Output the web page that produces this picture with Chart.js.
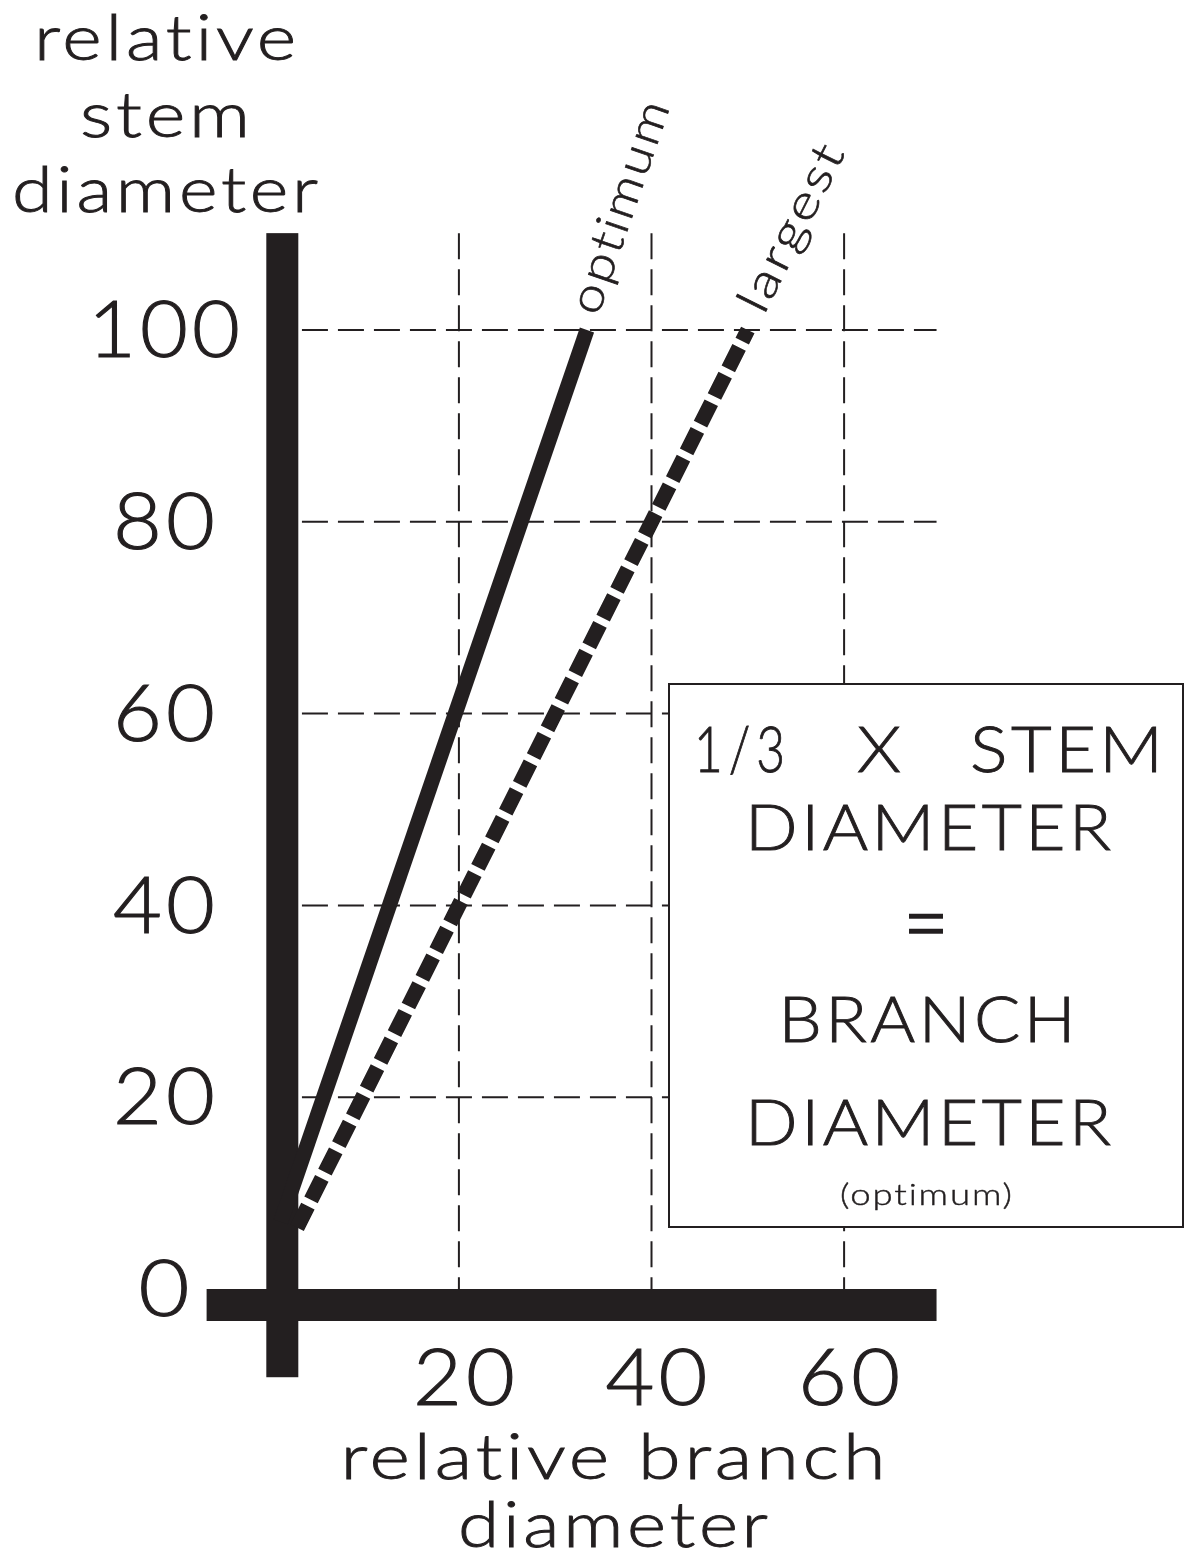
<!DOCTYPE html>
<html>
<head>
<meta charset="utf-8">
<script src="https://cdn.jsdelivr.net/npm/chart.js@4.4.1/dist/chart.umd.min.js"></script>
<style>
  html, body { margin: 0; padding: 0; background: #fff; }
  canvas { display: block; }
</style>
</head>
<body>
<canvas id="c" width="1186" height="1558"></canvas>
<script>
/* ── data ─────────────────────────────────────────────── */
const OPTIMUM_X = [1.5, 33.3];
const OPTIMUM_Y = [7, 100];
const LARGEST_X = [3.2, 50];
const LARGEST_Y = [6.4, 100];

const X_TICKS = [20, 40, 60];
const Y_TICKS = [0, 20, 40, 60, 80, 100];
const X_GRID = [20, 40, 60];
const Y_GRID = [20, 40, 60, 80, 100];

const SERIES_LABELS = ["optimum", "largest"];
const Y_TITLE = ["relative", "stem", "diameter"];
const X_TITLE = ["relative branch", "diameter"];

const INK = "#231f20";
const FONT = "Lato, 'Open Sans', sans-serif";
const W = 300;

const pts = (xs, ys) => xs.map((x, i) => ({ x, y: ys[i] }));

/* draw text widened to a given width: a little letter spacing, rest by horizontal stretch */
function fitText(ctx, text, left, baseY, width, size, lsf = 0.05) {
  const n = text.length;
  const ls = n > 1 ? size * lsf : 0;
  ctx.letterSpacing = ls + "px";
  const w = ctx.measureText(text).width - ls;
  const sx = width / w;
  ctx.save();
  ctx.textAlign = "left";
  ctx.translate(left, baseY);
  ctx.scale(sx, 1);
  ctx.fillText(text, 0, 0);
  ctx.lineWidth = size / 70;   // light face, slightly thickened
  ctx.strokeStyle = INK;
  ctx.strokeText(text, 0, 0);
  ctx.restore();
  ctx.letterSpacing = "0px";
}
function fitCentered(ctx, text, cx, baseY, width, size, lsf) {
  fitText(ctx, text, cx - width / 2, baseY, width, size, lsf);
}

/* ── decorations: axes bars, dashed grid, labels, box ─── */
const decor = {
  id: "decor",
  beforeDatasetsDraw(chart) {
    const { ctx, scales: { x, y } } = chart;
    ctx.save();
    // dashed grid
    ctx.strokeStyle = INK;
    ctx.lineWidth = 2;
    ctx.setLineDash([26, 10]);
    Y_GRID.forEach(v => {
      const py = y.getPixelForValue(v);
      ctx.beginPath();
      ctx.moveTo(x.getPixelForValue(3.7), py);
      ctx.lineTo(x.getPixelForValue(69.6), py);
      ctx.stroke();
    });
    X_GRID.forEach(v => {
      const px = x.getPixelForValue(v);
      ctx.beginPath();
      ctx.moveTo(px, y.getPixelForValue(110.1));
      ctx.lineTo(px, y.getPixelForValue(0));
      ctx.stroke();
    });
    ctx.setLineDash([]);
    // thick axis bars
    ctx.fillStyle = INK;
    const x0 = x.getPixelForValue(0), y0 = y.getPixelForValue(0);
    ctx.fillRect(x0, y.getPixelForValue(110.1), 32, y.getPixelForValue(-9.2) - y.getPixelForValue(110.1));
    ctx.fillRect(x.getPixelForValue(-6.2), y0, x.getPixelForValue(69.6) - x.getPixelForValue(-6.2), 32);
    ctx.restore();
  },
  afterDatasetsDraw(chart) {
    const { ctx, scales: { x, y } } = chart;
    ctx.save();
    ctx.fillStyle = INK;

    // y tick labels
    ctx.font = `${W} 78px ${FONT}`;
    ctx.textBaseline = "middle";
    Y_TICKS.forEach(v => {
      const s = String(v);
      fitCentered(ctx, s, 164, y.getPixelForValue(v) + 2, s.length === 3 ? 152 : s.length * 51, 78);
    });
    // x tick labels
    ctx.textBaseline = "alphabetic";
    X_TICKS.forEach(v => {
      fitCentered(ctx, String(v), x.getPixelForValue(v) + 5, 1405, 102, 78);
    });

    // axis titles
    ctx.font = `${W} 64px ${FONT}`;
    const yTW = [262, 170, 306];
    const yTB = [60, 137, 212];
    Y_TITLE.forEach((t, i) => fitCentered(ctx, t, 165, yTB[i], yTW[i], 64));
    fitCentered(ctx, X_TITLE[0], 613, 1479, 545, 64);
    fitCentered(ctx, X_TITLE[1], 613, 1547, 310, 64);

    // rotated series labels at line ends
    ctx.font = `${W} 46px ${FONT}`;
    chart.data.datasets.forEach((ds, i) => {
      const meta = chart.getDatasetMeta(i);
      const a = meta.data[0], b = meta.data[meta.data.length - 1];
      const ang = Math.atan2(b.y - a.y, b.x - a.x);
      const off = i === 0 ? [11, -13] : [16, -14];
      ctx.save();
      ctx.translate(b.x + off[0], b.y + off[1]);
      ctx.rotate(ang);
      fitText(ctx, SERIES_LABELS[i], 0, 0, i === 0 ? 222 : 182, 46);
      ctx.restore();
    });

    // rule box
    ctx.fillStyle = "#fff";
    ctx.fillRect(669, 684, 514, 543);
    ctx.strokeStyle = INK;
    ctx.lineWidth = 2;
    ctx.strokeRect(669, 684, 514, 543);
    ctx.fillStyle = INK;
    ctx.font = `${W} 64px ${FONT}`;
    fitText(ctx, "1/3", 694, 772, 91, 64, 0.12);
    fitCentered(ctx, "X", 879, 772, 44, 64);
    fitText(ctx, "STEM", 970, 772, 193, 64);
    fitCentered(ctx, "DIAMETER", 928, 850, 366, 64);
    fitCentered(ctx, "BRANCH", 927, 1042, 297, 64);
    fitCentered(ctx, "DIAMETER", 928, 1145, 366, 64);
    ctx.font = `${W} 96px ${FONT}`;
    fitCentered(ctx, "=", 926, 956, 46, 96);
    ctx.font = `${W} 30px ${FONT}`;
    fitCentered(ctx, "(optimum)", 926, 1205, 172, 30);
    ctx.restore();
  }
};

/* ── chart ────────────────────────────────────────────── */
new Chart(document.getElementById("c"), {
  type: "line",
  data: {
    datasets: [
      {
        label: SERIES_LABELS[0],
        data: pts(OPTIMUM_X, OPTIMUM_Y),
        borderColor: INK,
        borderWidth: 15,
        borderCapStyle: "butt",
        pointRadius: 0,
        tension: 0,
      },
      {
        label: SERIES_LABELS[1],
        data: pts(LARGEST_X, LARGEST_Y),
        borderColor: INK,
        borderWidth: 15,
        borderDash: [24, 7],
        borderCapStyle: "butt",
        pointRadius: 0,
        tension: 0,
      },
    ],
  },
  options: {
    responsive: false,
    animation: false,
    events: [],
    layout: { padding: { left: 198.9, right: 245.6, top: 234.1, bottom: 173.1 } },
    plugins: { legend: { display: false }, tooltip: { enabled: false } },
    scales: {
      x: { type: "linear", min: -7, max: 70, display: false },
      y: { type: "linear", min: -10, max: 110, display: false },
    },
  },
  plugins: [decor],
});
</script>
</body>
</html>
